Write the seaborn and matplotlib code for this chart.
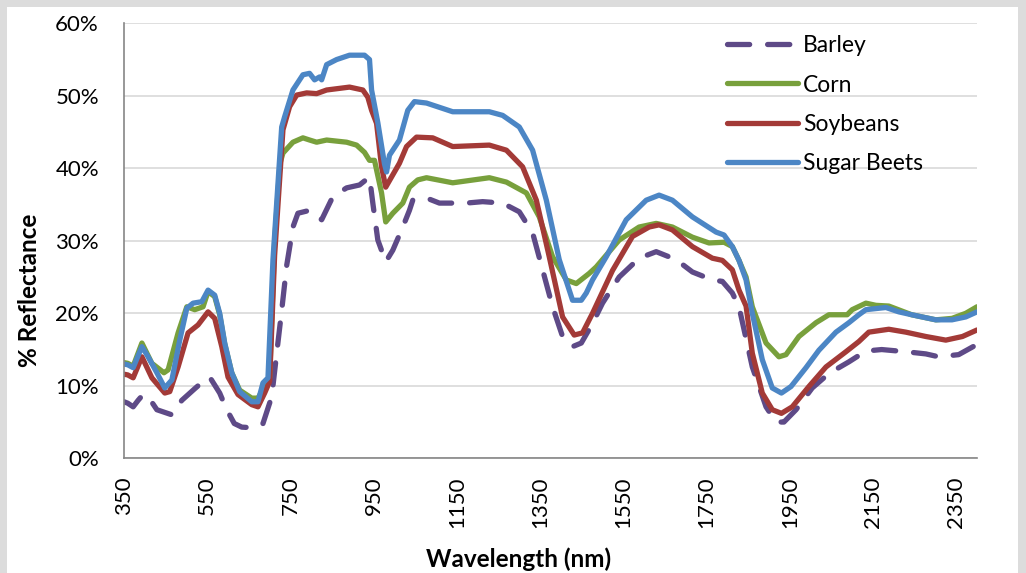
import pandas as pd
import matplotlib
matplotlib.use("Agg")
import matplotlib.pyplot as plt
from matplotlib.patches import Rectangle
from matplotlib.ticker import PercentFormatter
import seaborn as sns

# values (wavelength in nm, reflectance in %)
barley_wl = [350, 359, 372, 384, 396, 408, 429, 465, 489, 520, 544, 556, 580, 597, 615, 633, 664, 684,
             705, 717, 729, 741, 756, 768, 796, 825, 852, 885, 916, 940, 948, 960, 979, 996, 1020, 1036,
             1044, 1077, 1108, 1172, 1212, 1260, 1300, 1332, 1356, 1380, 1404, 1428, 1449, 1476, 1500,
             1540, 1588, 1629, 1677, 1716, 1764, 1788, 1812, 1828, 1860, 1893, 1917, 1936, 1965, 2004,
             2044, 2092, 2133, 2171, 2229, 2277, 2308, 2356, 2400]
barley = [7.8, 7.6, 7.1, 8.0, 8.8, 8.5, 6.7, 6.0, 8.0, 9.6, 10.8, 11.2, 9.0, 6.7, 4.8, 4.3, 4.2, 4.8,
          8.5, 14.5, 20.4, 26.6, 31.9, 33.8, 34.2, 32.9, 36.1, 37.3, 37.7, 38.8, 35.2, 30.1, 27.1, 28.7, 31.9, 34.2,
          35.6, 35.9, 35.2, 35.2, 35.4, 35.2, 34.0, 31.1, 26.0, 20.9, 16.8, 15.4, 15.9, 18.6, 21.4,
          25.0, 27.6, 28.5, 27.4, 25.7, 24.6, 24.4, 22.8, 20.9, 12.6, 7.1, 5.0, 5.0, 6.7, 9.7,
          11.7, 13.3, 14.8, 15.0, 14.7, 14.4, 14.0, 14.3, 15.7]

corn_wl = [350, 359, 372, 393, 417, 446, 456, 480, 501, 520, 540, 552, 568, 580, 592, 609, 628, 657, 672,
           688, 700, 712, 725, 732, 756, 780, 796, 813, 837, 885, 909, 928, 940, 952, 969, 979, 996, 1020,
           1036, 1056, 1077, 1140, 1228, 1269, 1317, 1348, 1380, 1413, 1437, 1468, 1485, 1540, 1588, 1629,
           1668, 1716, 1756, 1792, 1812, 1828, 1845, 1860, 1893, 1924, 1941, 1972, 2013, 2044, 2088, 2100,
           2133, 2157, 2188, 2243, 2301, 2340, 2373, 2400]
corn = [13.2, 13.1, 12.7, 15.9, 13.1, 11.8, 12.2, 17.3, 20.9, 20.5, 20.9, 23.0, 22.3, 19.8, 15.8, 11.8, 9.4, 8.3, 8.3,
        9.9, 11.1, 30.0, 40.7, 42.1, 43.6, 44.2, 43.9, 43.6, 43.9, 43.6, 43.2, 42.2, 41.1, 41.1, 36.6, 32.6, 33.8, 35.2,
        37.4, 38.4, 38.7, 38.0, 38.7, 38.1, 36.6, 33.3, 27.8, 24.6, 24.1, 25.5, 26.4, 30.1, 31.9, 32.4,
        31.9, 30.5, 29.7, 29.8, 29.2, 27.3, 25.0, 20.9, 15.9, 14.0, 14.3, 16.8, 18.7, 19.8, 19.8, 20.5,
        21.4, 21.1, 21.0, 19.8, 19.1, 19.3, 20.0, 20.9]

soy_wl = [350, 359, 372, 393, 417, 448, 460, 480, 504, 528, 552, 568, 585, 600, 624, 657, 672, 688, 700,
          712, 732, 748, 765, 789, 813, 837, 892, 924, 936, 945, 957, 969, 979, 993, 1012, 1029, 1053, 1092,
          1140, 1228, 1269, 1308, 1341, 1372, 1404, 1432, 1452, 1476, 1524, 1572, 1612, 1636, 1668, 1716,
          1764, 1788, 1812, 1828, 1845, 1860, 1884, 1908, 1930, 1956, 1996, 2037, 2085, 2116, 2140, 2188,
          2229, 2277, 2325, 2365, 2400]
soybeans = [11.6, 11.5, 11.1, 14.0, 11.1, 9.0, 9.2, 12.6, 17.3, 18.4, 20.2, 19.3, 15.4, 11.2, 8.8, 7.4, 7.1, 9.0, 10.6,
            28.0, 45.3, 48.5, 50.1, 50.4, 50.3, 50.8, 51.2, 50.8, 49.8, 48.0, 46.2, 40.2, 37.4, 38.8, 40.7, 43.0, 44.3, 44.2,
            43.0, 43.2, 42.5, 40.2, 35.6, 27.8, 19.5, 17.0, 17.3, 20.0, 25.9, 30.6, 31.9, 32.2, 31.5, 29.2,
            27.6, 27.3, 26.0, 23.2, 21.0, 14.5, 9.0, 6.7, 6.2, 7.1, 9.9, 12.6, 14.7, 16.1, 17.4, 17.8,
            17.4, 16.8, 16.3, 16.8, 17.7]

beet_wl = [350, 359, 372, 393, 408, 429, 448, 465, 484, 501, 516, 537, 552, 568, 580, 592, 609, 628, 657,
           672, 684, 696, 708, 729, 736, 756, 780, 796, 808, 820, 825, 837, 861, 892, 928, 940, 945, 960, 976,
           981, 988, 1012, 1032, 1048, 1077, 1140, 1228, 1260, 1300, 1332, 1365, 1396, 1428, 1449, 1461, 1476,
           1509, 1557, 1605, 1636, 1668, 1716, 1773, 1792, 1812, 1828, 1845, 1860, 1884, 1908, 1930, 1953,
           1989, 2020, 2061, 2092, 2116, 2133, 2181, 2212, 2243, 2301, 2340, 2373, 2400]
sugar_beets = [13.0, 12.9, 12.5, 15.4, 14.0, 11.8, 9.7, 10.8, 16.3, 20.7, 21.4, 21.6, 23.2, 22.5, 20.0, 15.9, 11.8, 9.2, 7.8,
               7.8, 10.4, 11.1, 27.4, 45.7, 47.1, 50.8, 52.9, 53.1, 52.2, 52.6, 52.2, 54.3, 55.0, 55.6, 55.6, 55.0, 50.8, 46.3, 40.6,
               39.5, 41.8, 43.9, 48.0, 49.2, 49.0, 47.8, 47.8, 47.3, 45.7, 42.5, 35.6, 27.4, 21.8, 21.8, 22.8, 24.6,
               27.8, 32.9, 35.6, 36.3, 35.6, 33.3, 31.2, 30.8, 29.2, 27.3, 24.6, 20.0, 13.6, 9.7, 9.0, 9.9,
               12.5, 14.9, 17.4, 18.7, 19.8, 20.5, 20.8, 20.2, 19.8, 19.1, 19.1, 19.5, 20.2]

crops = ["Barley", "Corn", "Soybeans", "Sugar Beets"]
colors = {"Barley": "#5E4A87", "Corn": "#78A03C", "Soybeans": "#A33A37", "Sugar Beets": "#4C86C5"}
x_ticks = [350, 550, 750, 950, 1150, 1350, 1550, 1750, 1950, 2150, 2350]
y_ticks = [0, 10, 20, 30, 40, 50, 60]


def build_frame():
    parts = []
    for name, wl, vals in zip(crops, [barley_wl, corn_wl, soy_wl, beet_wl],
                              [barley, corn, soybeans, sugar_beets]):
        parts.append(pd.DataFrame({"Wavelength": wl, "Reflectance": vals, "Crop": name}))
    return pd.concat(parts, ignore_index=True)


def plot_spectra(df, output_file):
    sns.set_theme(style="white")
    plt.rcParams["font.family"] = ["Lato", "DejaVu Sans"]
    plt.rcParams["text.color"] = "black"
    plt.rcParams["xtick.color"] = "black"
    plt.rcParams["ytick.color"] = "black"

    fig = plt.figure(figsize=(10.26, 5.73), dpi=100, facecolor="#DCDCDC")
    # white card inside the grey frame, kept behind the axes
    card = Rectangle((7 / 1026, 0), 1011 / 1026, 566 / 573, transform=fig.transFigure,
                     facecolor="white", edgecolor="none", zorder=-10)
    fig.patches.append(card)
    ax = fig.add_axes([124 / 1026, 1 - 458.3 / 573, 853 / 1026, 435 / 573])
    ax.set_facecolor("none")

    sns.lineplot(data=df, x="Wavelength", y="Reflectance", hue="Crop", style="Crop",
                 palette=colors, dashes={"Barley": (4.2, 3.4), "Corn": "", "Soybeans": "", "Sugar Beets": ""},
                 hue_order=crops, style_order=crops, estimator=None, sort=False,
                 lw=3.8, legend=False, ax=ax)
    for line in ax.lines:
        line.set_solid_capstyle("round")
        line.set_dash_capstyle("round")
        line.set_solid_joinstyle("round")

    ax.set_xlim(350, 2400)
    ax.set_ylim(0, 60)
    ax.set_xticks(x_ticks)
    ax.set_yticks(y_ticks)
    ax.yaxis.set_major_formatter(PercentFormatter(xmax=100, decimals=0))
    ax.tick_params(axis="x", labelrotation=90, labelsize=16, pad=13, length=0)
    ax.tick_params(axis="y", labelsize=16, pad=18, length=0)
    ax.grid(axis="y", color="#D9D9D9", lw=1.2)
    ax.grid(axis="x", visible=False)
    for side in ["top", "right"]:
        ax.spines[side].set_visible(False)
    for side in ["left", "bottom"]:
        ax.spines[side].set_color("#868686")
        ax.spines[side].set_linewidth(1.2)
    ax.set_xlabel("")
    ax.set_ylabel("")

    fig.text(30 / 1026, 1 - 290 / 573, "% Reflectance", rotation=90, fontsize=17.5,
             fontweight="bold", ha="center", va="center")
    fig.text(519 / 1026, 1 - 559 / 573, "Wavelength (nm)", fontsize=17.5,
             fontweight="bold", ha="center", va="center")

    ax.legend(handles=ax.lines, labels=crops, loc="upper left",
              bbox_to_anchor=(718 / 1026, 1 - 26 / 573), bbox_transform=fig.transFigure,
              frameon=False, fontsize=16.5, handlelength=3.1, handletextpad=0.2,
              labelspacing=0.8, borderaxespad=0)

    fig.savefig(output_file, dpi=100, facecolor=fig.get_facecolor())
    plt.close(fig)


def main():
    df = build_frame()
    plot_spectra(df, "out.png")


if __name__ == "__main__":
    main()
